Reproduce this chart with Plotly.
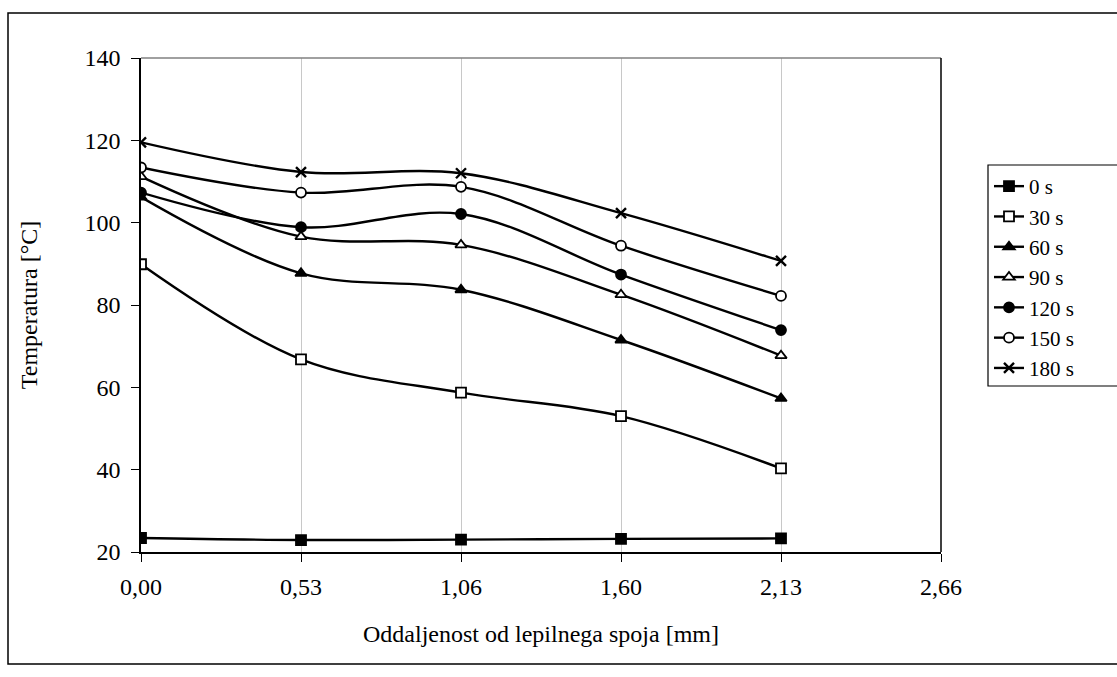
import plotly.graph_objects as go

# Distance from the adhesive joint (category axis labels)
distances = ["0,00", "0,53", "1,06", "1,60", "2,13", "2,66"]

# Temperature [°C] at each distance, one list per heating time
t_0s = [23.4, 22.9, 23.0, 23.2, 23.3]
t_30s = [89.9, 66.8, 58.7, 53.0, 40.3]
t_60s = [106.2, 87.7, 83.7, 71.5, 57.3]
t_90s = [111.2, 96.6, 94.6, 82.5, 67.7]
t_120s = [107.3, 98.9, 102.1, 87.4, 73.9]
t_150s = [113.4, 107.3, 108.7, 94.4, 82.2]
t_180s = [119.5, 112.3, 112.0, 102.3, 90.7]

series_names = ["0 s", "30 s", "60 s", "90 s", "120 s", "150 s", "180 s"]
series_values = [t_0s, t_30s, t_60s, t_90s, t_120s, t_150s, t_180s]

# marker style per series: (symbol, fill colour)
marker_styles = [
    ("square", "black"),
    ("square", "white"),
    ("triangle-up", "black"),
    ("triangle-up", "white"),
    ("circle", "black"),
    ("circle", "white"),
    ("x-thin", "black"),
]

FONT = "Liberation Serif"

fig = go.Figure()
for name, vals, (sym, fill) in zip(series_names, series_values, marker_styles):
    if sym == "x-thin":
        marker = dict(symbol=sym, size=10, color="black",
                      line=dict(color="black", width=2.4))
    else:
        marker = dict(symbol=sym, size=10, color=fill,
                      line=dict(color="black", width=1.8))
    fig.add_trace(go.Scatter(
        x=distances[:len(vals)], y=vals, name=name,
        mode="lines+markers",
        line=dict(color="black", width=2.4, shape="spline", smoothing=1.0),
        marker=marker,
    ))

L, R, T, B = 141, 176, 58, 125
W, H = 1117, 677
pw, ph = W - L - R, H - T - B


def px_x(p):
    return (p - L) / pw


def px_y(p):
    return (H - B - p) / ph


fig.update_layout(
    width=W, height=H,
    margin=dict(l=L, r=R, t=T, b=B),
    paper_bgcolor="white", plot_bgcolor="white",
    font=dict(family=FONT, size=24, color="black"),
    showlegend=True,
    legend=dict(
        x=px_x(989), y=px_y(166), xanchor="left", yanchor="top",
        borderwidth=0,
        font=dict(family=FONT, size=21, color="black"),
        bgcolor="rgba(0,0,0,0)",
        tracegroupgap=0,
    ),
    xaxis=dict(
        type="category", categoryorder="array", categoryarray=distances,
        range=[0, len(distances) - 1],
        showgrid=True, gridcolor="#c8c8c8", gridwidth=1,
        showline=True, linecolor="black", linewidth=2,
        ticks="outside", ticklen=8, tickcolor="black", tickwidth=1,
        tickfont=dict(family=FONT, size=24),
        ticklabelstandoff=4,
        title=dict(text="Oddaljenost od lepilnega spoja [mm]",
                   font=dict(family=FONT, size=24), standoff=26),
        zeroline=False,
    ),
    yaxis=dict(
        range=[20, 140], dtick=20, tick0=20,
        showgrid=False,
        showline=True, linecolor="black", linewidth=1.5,
        ticks="outside", ticklen=8, tickcolor="black", tickwidth=1,
        tickfont=dict(family=FONT, size=24),
        ticklabelstandoff=6,
        title=dict(text="Temperatura [°C]",
                   font=dict(family=FONT, size=24), standoff=40),
        zeroline=False,
    ),
    shapes=[
        # plot area frame: grey top edge, black right edge
        dict(type="line", xref="paper", yref="paper", x0=0, x1=1, y0=1, y1=1,
             line=dict(color="#808080", width=1.5)),
        dict(type="line", xref="paper", yref="paper", x0=1, x1=1, y0=0, y1=1,
             line=dict(color="black", width=1.5)),
        # legend frame, running past the right edge of the chart
        dict(type="rect", xref="paper", yref="paper",
             x0=px_x(988), x1=px_x(1125), y0=px_y(386), y1=px_y(165),
             line=dict(color="black", width=1.2), layer="below"),
        # outer chart frame
        dict(type="rect", xref="paper", yref="paper",
             x0=px_x(8), x1=px_x(1120), y0=px_y(664), y1=px_y(13),
             line=dict(color="black", width=1.5), layer="below"),
    ],
)

fig.write_html("out.html")
